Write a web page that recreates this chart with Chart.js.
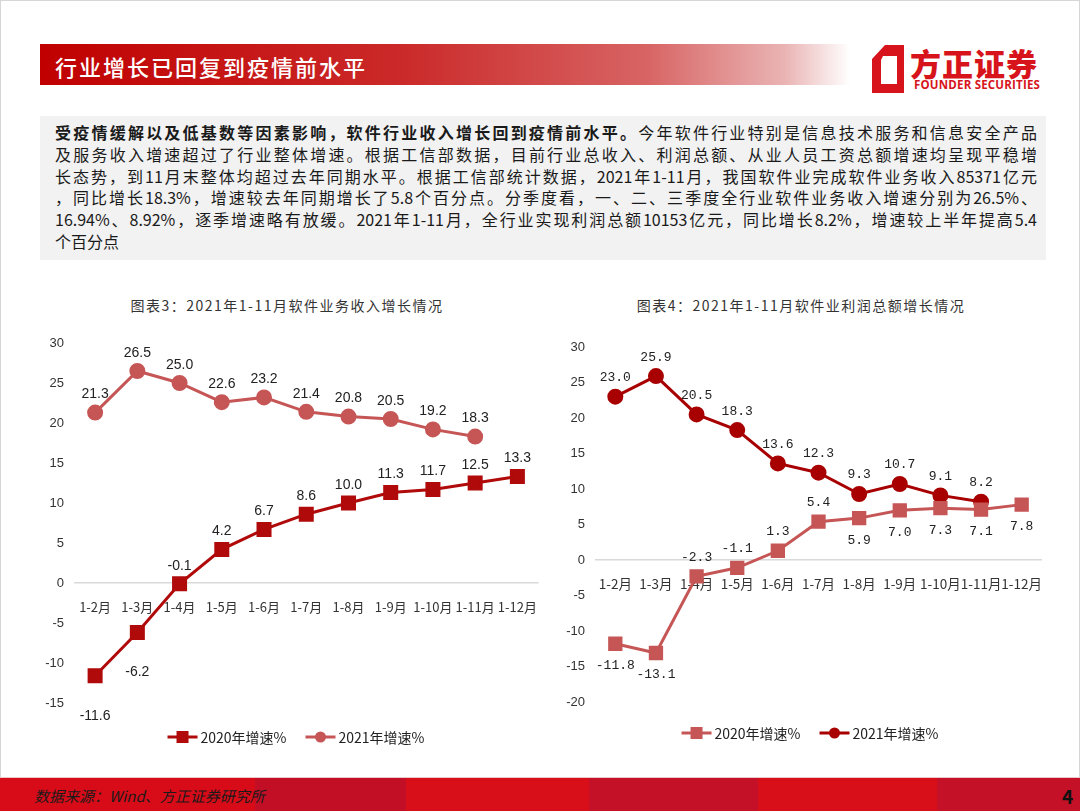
<!DOCTYPE html>
<html>
<head>
<meta charset="utf-8">
<script src="https://cdn.jsdelivr.net/npm/chart.js@4.4.1/dist/chart.umd.min.js"></script>
<style>
	body { margin: 0; width: 1080px; height: 811px; position: relative; background: #fff; overflow: hidden; font-family: "Noto Sans CJK SC", sans-serif; }
	#frame { position: absolute; left: 0; top: 0; width: 1078px; height: 809px; border: 1px solid #d6d6d6; }
	#header { position: absolute; left: 40px; top: 44px; width: 810px; height: 41px;
		background: linear-gradient(to right, #c00000 0%, #cb2a2a 45%, #d86464 75%, #eab4b4 92%, #ffffff 100%); }
	#header span { position: absolute; left: 15px; top: 6px; color: #fff; font-size: 22px; font-weight: 500; letter-spacing: 2px; }
	#logo-svg { position: absolute; left: 870px; top: 44px; }
	#logo-cn { position: absolute; left: 910px; top: 40px; font-size: 31px; font-weight: 900; color: #d7141c; letter-spacing: 1px; }
	#logo-en { position: absolute; left: 914px; top: 77px; font-size: 11.5px; font-weight: 700; color: #d7141c; font-family: "Open Sans", sans-serif; letter-spacing: 0.2px; }
	#textbox { position: absolute; left: 40px; top: 116px; width: 991px; height: 138px; padding: 6px 0 0 15px; background: #f2f2f2; color: #1a1a1a; font-size: 16px; line-height: 21.8px; }
	#textbox div { width: 982px; text-align: justify; text-align-last: justify; }
	#textbox div.last { text-align-last: left; }
	.ctitle { position: absolute; width: 420px; text-align: center; font-size: 14px; color: #333; letter-spacing: 1.5px; top: 295px; }
	canvas { position: absolute; }
	#footer { position: absolute; left: 0; top: 777px; width: 1080px; height: 34px; border-top: 1px solid #e8c8c8;
		background: linear-gradient(to right, #d80c18 0, #d80c18 255px, #c20f26 255px, #c20f26 406px, #d80e18 406px, #d80e18 589px, #c41128 589px, #c41128 758px, #d80e18 758px, #d80e18 937px, #c41128 937px); }
	#source { position: absolute; left: 34px; top: 7px; font-size: 15px; font-style: italic; color: #1a1a1a; }
	#page { position: absolute; left: 1062px; top: 4px; font-size: 19px; font-weight: 700; color: #111; }
</style>
</head>
<body>
<div id="frame"></div>
<div id="header"><span>行业增长已回复到疫情前水平</span></div>
<svg id="logo-svg" width="36" height="50" viewBox="0 0 36 50">
	<path fill="#d7141c" fill-rule="evenodd" d="M15 1 L34 1 L34 49 L2 49 L2 15 Z M13 12 L27 12 L27 40 L11 40 L11 16 Z"/>
</svg>
<div id="logo-cn">方正证券</div>
<div id="logo-en">FOUNDER SECURITIES</div>

<div id="textbox">
	<div><b>受疫情缓解以及低基数等因素影响，软件行业收入增长回到疫情前水平。</b>今年软件行业特别是信息技术服务和信息安全产品</div>
	<div>及服务收入增速超过了行业整体增速。根据工信部数据，目前行业总收入、利润总额、从业人员工资总额增速均呈现平稳增</div>
	<div>长态势，到11月末整体均超过去年同期水平。根据工信部统计数据，2021年1-11月，我国软件业完成软件业务收入85371亿元</div>
	<div>，同比增长18.3%，增速较去年同期增长了5.8个百分点。分季度看，一、二、三季度全行业软件业务收入增速分别为26.5%、</div>
	<div>16.94%、8.92%，逐季增速略有放缓。2021年1-11月，全行业实现利润总额10153亿元，同比增长8.2%，增速较上半年提高5.4</div>
	<div class="last">个百分点</div>
</div>

<div class="ctitle" style="left:77px">图表3：2021年1-11月软件业务收入增长情况</div>
<div class="ctitle" style="left:591px">图表4：2021年1-11月软件业利润总额增长情况</div>

<canvas id="grafico-ricavi" style="left:30px; top:325px; width:520px; height:440px"></canvas>
<canvas id="grafico-utili" style="left:550px; top:325px; width:510px; height:440px"></canvas>

<div id="footer"><span id="source">数据来源：Wind、方正证券研究所</span><span id="page">4</span></div>

<script>
// Dati
let mesi = ['1-2月', '1-3月', '1-4月', '1-5月', '1-6月', '1-7月', '1-8月', '1-9月', '1-10月', '1-11月', '1-12月'];

let ricavi2020 = [-11.6, -6.2, -0.1, 4.2, 6.7, 8.6, 10.0, 11.3, 11.7, 12.5, 13.3];
let ricavi2021 = [21.3, 26.5, 25.0, 22.6, 23.2, 21.4, 20.8, 20.5, 19.2, 18.3, null];
let utili2020 = [-11.8, -13.1, -2.3, -1.1, 1.3, 5.4, 5.9, 7.0, 7.3, 7.1, 7.8];
let utili2021 = [23.0, 25.9, 20.5, 18.3, 13.6, 12.3, 9.3, 10.7, 9.1, 8.2, null];

let tickRicavi = [-15, -10, -5, 0, 5, 10, 15, 20, 25, 30];
let tickUtili = [-20, -15, -10, -5, 0, 5, 10, 15, 20, 25, 30];

// Posizione delle etichette (sopra / sotto il punto)
let posRicavi2020 = ['below', 'below', 'above', 'above', 'above', 'above', 'above', 'above', 'above', 'above', 'above'];
let posRicavi2021 = mesi.map(() => 'above');
let posUtili2020 = ['below', 'below', 'above', 'above', 'above', 'above', 'below', 'below', 'below', 'below', 'below'];
let posUtili2021 = mesi.map(() => 'above');

const ROSSO_SCURO = '#b00a0a';
const ROSSO_CHIARO = '#c65656';

// Etichette dei valori sui punti
const pointLabels = {
	id: 'pointLabels',
	afterDatasetsDraw(chart, args, opts) {
		let ctx = chart.ctx;
		ctx.save();
		ctx.font = opts.font;
		ctx.fillStyle = opts.color;
		ctx.textAlign = 'center';
		ctx.textBaseline = 'middle';
		chart.data.datasets.forEach((ds, i) => {
			let meta = chart.getDatasetMeta(i);
			meta.data.forEach((pt, j) => {
				let v = ds.data[j];
				if (v == null) return;
				let dy = ds.labelPos[j] === 'below' ? opts.below : opts.above;
				ctx.fillText(v.toFixed(1), pt.x, pt.y + dy);
			});
		});
		ctx.restore();
	}
};

// Legenda con linea + marcatore
const lineLegend = {
	id: 'lineLegend',
	afterDraw(chart, args, opts) {
		let ctx = chart.ctx;
		ctx.save();
		ctx.font = opts.font;
		ctx.textBaseline = 'middle';
		let items = opts.order.map(i => {
			let ds = chart.data.datasets[i];
			return { ds: ds, w: 33 + ctx.measureText(ds.label).width };
		});
		let total = items.reduce((s, it) => s + it.w, 0) + opts.gap * (items.length - 1);
		let x = opts.centerX - total / 2;
		let y = opts.y;
		items.forEach(it => {
			let ds = it.ds;
			ctx.strokeStyle = ds.borderColor;
			ctx.lineWidth = 3;
			ctx.beginPath();
			ctx.moveTo(x, y);
			ctx.lineTo(x + 30, y);
			ctx.stroke();
			ctx.fillStyle = ds.pointBackgroundColor;
			if (ds.pointStyle === 'rect') {
				ctx.fillRect(x + 9, y - 6, 12, 12);
			} else {
				ctx.beginPath();
				ctx.arc(x + 15, y, 5.5, 0, Math.PI * 2);
				ctx.fill();
			}
			ctx.fillStyle = opts.color;
			ctx.textAlign = 'left';
			ctx.fillText(ds.label, x + 33, y + 1);
			x += it.w + opts.gap;
		});
		ctx.restore();
	}
};

function serie(label, data, colore, stile, pos, raggio) {
	return {
		label: label,
		data: data,
		labelPos: pos,
		borderColor: colore,
		backgroundColor: colore,
		pointBackgroundColor: colore,
		pointBorderColor: colore,
		borderWidth: 3,
		pointStyle: stile,
		pointRadius: raggio,
		pointHoverRadius: raggio,
		tension: 0,
		spanGaps: false,
	};
}

function opzioni(tick, xFont, padding, etichette, legenda) {
	return {
		responsive: false,
		animation: false,
		layout: { padding: padding },
		plugins: {
			legend: { display: false },
			tooltip: { enabled: false },
			pointLabels: etichette,
			lineLegend: legenda,
		},
		scales: {
			x: {
				position: { y: 0 },
				offset: true,
				grid: { display: false },
				border: { display: false },
				ticks: { color: '#333', font: xFont, padding: 8, autoSkip: false, maxRotation: 0 },
			},
			y: {
				min: Math.min(...tick),
				max: Math.max(...tick),
				afterFit: scale => { scale.width = 30; },
				grid: {
					drawTicks: false,
					lineWidth: 1.5,
					color: c => c.tick && c.tick.value === 0 ? '#d9d9d9' : 'rgba(0,0,0,0)',
				},
				border: { display: false },
				ticks: { stepSize: tick[1] - tick[0], color: '#333', padding: 10, font: { family: 'Liberation Sans', size: 13 } },
			},
		},
	};
}

function main() {
	let canvasRicavi = document.getElementById('grafico-ricavi');
	canvasRicavi.width = 520; canvasRicavi.height = 440;
	new Chart(canvasRicavi, {
		type: 'line',
		data: {
			labels: mesi,
			datasets: [
				serie('2020年增速%', ricavi2020, ROSSO_SCURO, 'rect', posRicavi2020, 8.5),
				serie('2021年增速%', ricavi2021, ROSSO_CHIARO, 'circle', posRicavi2021, 6.5),
			]
		},
		options: opzioni(
			tickRicavi,
			{ family: 'Noto Sans CJK SC', size: 13 },
			{ top: 18, bottom: 62, left: 14, right: 9 },
			{ font: '14px "Liberation Sans"', color: '#222', above: -18, below: 40 },
			{ font: '14px "Noto Sans CJK SC"', color: '#222', centerX: 266, y: 412, gap: 19, order: [0, 1] }
		),
		plugins: [pointLabels, lineLegend],
	});

	let canvasUtili = document.getElementById('grafico-utili');
	canvasUtili.width = 510; canvasUtili.height = 440;
	new Chart(canvasUtili, {
		type: 'line',
		data: {
			labels: mesi,
			datasets: [
				serie('2020年增速%', utili2020, ROSSO_CHIARO, 'rect', posUtili2020, 8),
				serie('2021年增速%', utili2021, '#a80000', 'circle', posUtili2021, 6.5),
			]
		},
		options: opzioni(
			tickUtili,
			{ family: 'Noto Sans CJK SC', size: 13.5 },
			{ top: 22, bottom: 63, left: 15, right: 18 },
			{ font: '13px "Liberation Mono"', color: '#222', above: -19, below: 22 },
			{ font: '14px "Noto Sans CJK SC"', color: '#222', centerX: 260, y: 408, gap: 19, order: [0, 1] }
		),
		plugins: [pointLabels, lineLegend],
	});
}

main();
</script>
</body>
</html>
